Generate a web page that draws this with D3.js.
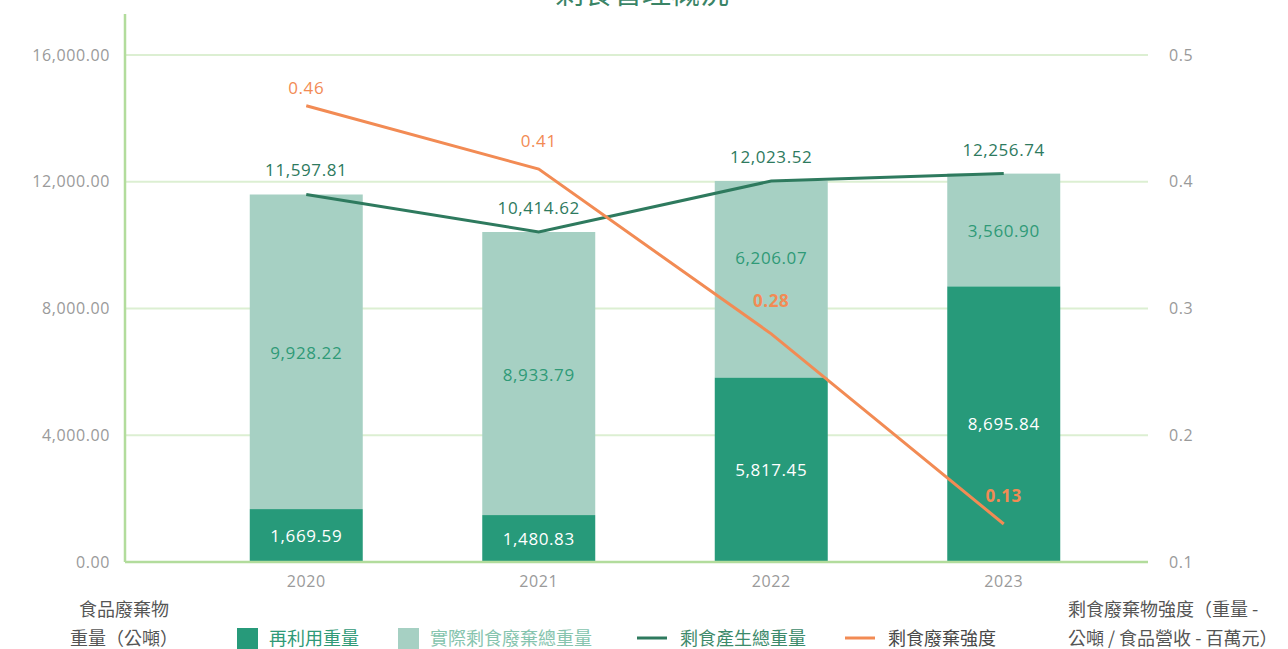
<!DOCTYPE html>
<html lang="zh-Hant">
<head>
    <meta charset="UTF-8">
    <title>剩食管理概況</title>
    <script src="https://d3js.org/d3.v7.min.js"></script>
    <style>
        body { margin: 0; background: #fff; }
        svg text { font-family: 'Open Sans', 'Noto Sans CJK TC', sans-serif; }
        .num { letter-spacing: 0.6px; }
        .cjk { font-family: 'Noto Sans CJK TC', 'Noto Sans', sans-serif !important; }
    </style>
</head>
<body>
<script>
    const years = ["2020", "2021", "2022", "2023"];
    const reused = [1669.59, 1480.83, 5817.45, 8695.84];
    const actualWaste = [9928.22, 8933.79, 6206.07, 3560.90];
    const totalGen = [11597.81, 10414.62, 12023.52, 12256.74];
    const intensity = [0.46, 0.41, 0.28, 0.13];
    const leftTicks = [0, 4000, 8000, 12000, 16000];
    const rightTicks = [0.1, 0.2, 0.3, 0.4, 0.5];

    const W = 1288, H = 649;
    const plotLeft = 125, plotRight = 1148, plotTop = 55, plotBottom = 562;
    // label nudges (px) so labels do not collide
    const orangeLift = [12, 22, 27, 22];
    const lightNudge = [0, 0, -22, 0];

    const cDark = "#279a7a", cLight = "#a6d0c3", cLine = "#2e7a5e", cOrange = "#f28b54";

    const svg = d3.select("body").append("svg")
        .attr("width", W).attr("height", H);

    const x = d3.scaleBand().domain(years).range([190, 1120]).paddingInner(0.514).paddingOuter(0.257);
    const xc = d => x(d) + x.bandwidth() / 2;
    const y = d3.scaleLinear().domain([0, 16000]).range([plotBottom, plotTop]);
    const y2 = d3.scaleLinear().domain([0.1, 0.5]).range([plotBottom, plotTop]);

    // title (cut off at the top, as in the source)
    svg.append("text").attr("class", "cjk")
        .attr("x", 642).attr("y", 4)
        .attr("text-anchor", "middle")
        .style("font-size", "29px")
        .style("fill", "#3a8466")
        .text("剩食管理概況");

    // grid
    svg.append("g").selectAll("line").data(leftTicks.slice(1)).enter().append("line")
        .attr("x1", plotLeft).attr("x2", plotRight)
        .attr("y1", d => y(d)).attr("y2", d => y(d))
        .attr("stroke", "#dcefd2").attr("stroke-width", 2);

    // left axis
    svg.append("g")
        .attr("transform", `translate(${plotLeft},0)`)
        .call(d3.axisLeft(y).tickValues(leftTicks).tickFormat(d3.format(",.2f")).tickSize(0).tickPadding(15))
        .call(g => g.select(".domain").remove())
        .selectAll("text")
        .attr("class", "num")
        .style("font-size", "16px").style("fill", "#9a9a9a");
    svg.append("line")
        .attr("x1", plotLeft).attr("x2", plotLeft).attr("y1", 14).attr("y2", plotBottom)
        .attr("stroke", "#b2dc9c").attr("stroke-width", 2.5);

    // right axis
    svg.append("g")
        .attr("transform", `translate(${plotRight},0)`)
        .call(d3.axisRight(y2).tickValues(rightTicks).tickFormat(d3.format(".1f")).tickSize(0).tickPadding(21))
        .call(g => g.select(".domain").remove())
        .selectAll("text")
        .attr("class", "num")
        .style("font-size", "16px").style("fill", "#9a9a9a");

    // bars
    svg.append("g").selectAll("rect").data(years).enter().append("rect")
        .attr("x", d => x(d)).attr("width", x.bandwidth())
        .attr("y", (d, i) => y(reused[i] + actualWaste[i]))
        .attr("height", (d, i) => y(reused[i]) - y(reused[i] + actualWaste[i]))
        .attr("fill", cLight);
    svg.append("g").selectAll("rect").data(years).enter().append("rect")
        .attr("x", d => x(d)).attr("width", x.bandwidth())
        .attr("y", (d, i) => y(reused[i]))
        .attr("height", (d, i) => y(0) - y(reused[i]))
        .attr("fill", cDark);

    // x axis
    svg.append("g")
        .attr("transform", `translate(0,${plotBottom})`)
        .call(d3.axisBottom(x).tickSize(0).tickPadding(14))
        .call(g => g.select(".domain").remove())
        .selectAll("text")
        .attr("class", "num")
        .style("font-size", "16px").style("fill", "#9a9a9a");
    svg.append("line")
        .attr("x1", plotLeft).attr("x2", plotRight).attr("y1", plotBottom).attr("y2", plotBottom)
        .attr("stroke", "#b2dc9c").attr("stroke-width", 2.5);

    const fmt = d3.format(",.2f");

    // bar labels
    svg.append("g").selectAll("text").data(years).enter().append("text")
        .attr("class", "num")
        .attr("x", d => xc(d))
        .attr("y", (d, i) => (y(reused[i]) + y(0)) / 2 + 6)
        .attr("text-anchor", "middle")
        .style("font-size", "17px").style("fill", "#ffffff")
        .text((d, i) => fmt(reused[i]));
    svg.append("g").selectAll("text").data(years).enter().append("text")
        .attr("class", "num")
        .attr("x", d => xc(d))
        .attr("y", (d, i) => (y(reused[i]) + y(reused[i] + actualWaste[i])) / 2 + 7 + lightNudge[i])
        .attr("text-anchor", "middle")
        .style("font-size", "17px").style("fill", "#2f9a77")
        .text((d, i) => fmt(actualWaste[i]));

    // total line
    const line1 = d3.line().x((d, i) => xc(years[i])).y(d => y(d));
    svg.append("path").datum(totalGen)
        .attr("fill", "none").attr("stroke", cLine).attr("stroke-width", 3)
        .attr("d", line1);
    svg.append("g").selectAll("text").data(totalGen).enter().append("text")
        .attr("class", "num")
        .attr("x", (d, i) => xc(years[i]))
        .attr("y", d => y(d) - 18)
        .attr("text-anchor", "middle")
        .style("font-size", "17px").style("fill", cLine)
        .text(d => fmt(d));

    // intensity line
    const line2 = d3.line().x((d, i) => xc(years[i])).y(d => y2(d));
    svg.append("path").datum(intensity)
        .attr("fill", "none").attr("stroke", cOrange).attr("stroke-width", 3)
        .attr("d", line2);
    svg.append("g").selectAll("text").data(intensity).enter().append("text")
        .attr("class", "num")
        .attr("x", (d, i) => xc(years[i]))
        .attr("y", (d, i) => y2(d) - orangeLift[i])
        .attr("text-anchor", "middle")
        .style("font-size", "17px")
        .style("font-weight", (d, i) => i < 2 ? "normal" : "bold")
        .style("fill", cOrange)
        .text(d => d3.format(".2f")(d));

    // axis titles
    const lt = svg.append("text").attr("class", "cjk")
        .attr("text-anchor", "middle")
        .style("font-size", "18px").style("fill", "#555");
    lt.append("tspan").attr("x", 124).attr("y", 616).text("食品廢棄物");
    lt.append("tspan").attr("x", 124).attr("y", 645).text("重量（公噸）");

    const rt = svg.append("text").attr("class", "cjk")
        .attr("text-anchor", "start")
        .style("font-size", "18px").style("fill", "#555");
    rt.append("tspan").attr("x", 1068).attr("y", 616).text("剩食廢棄物強度（重量 -");
    rt.append("tspan").attr("x", 1068).attr("y", 645).text("公噸 / 食品營收 - 百萬元）");

    // legend
    const legend = [
        {name: "再利用重量", type: "rect", color: cDark, text: "#2f9a77", x: 237},
        {name: "實際剩食廢棄總重量", type: "rect", color: cLight, text: "#86c4ae", x: 398},
        {name: "剩食產生總重量", type: "line", color: cLine, text: "#3d8a6a", x: 637},
        {name: "剩食廢棄強度", type: "line", color: cOrange, text: "#484848", x: 845}
    ];
    const lg = svg.append("g").selectAll("g").data(legend).enter().append("g")
        .attr("transform", d => `translate(${d.x},638)`);
    lg.filter(d => d.type === "rect").append("rect")
        .attr("x", 0).attr("y", -10).attr("width", 21).attr("height", 21)
        .attr("fill", d => d.color);
    lg.filter(d => d.type === "line").append("line")
        .attr("x1", 0).attr("x2", 30).attr("y1", 0).attr("y2", 0)
        .attr("stroke", d => d.color).attr("stroke-width", 3);
    lg.append("text").attr("class", "cjk")
        .attr("x", d => d.type === "rect" ? 32 : 43)
        .attr("y", 7)
        .style("font-size", "18px")
        .style("fill", d => d.text)
        .text(d => d.name);
</script>
</body>
</html>
